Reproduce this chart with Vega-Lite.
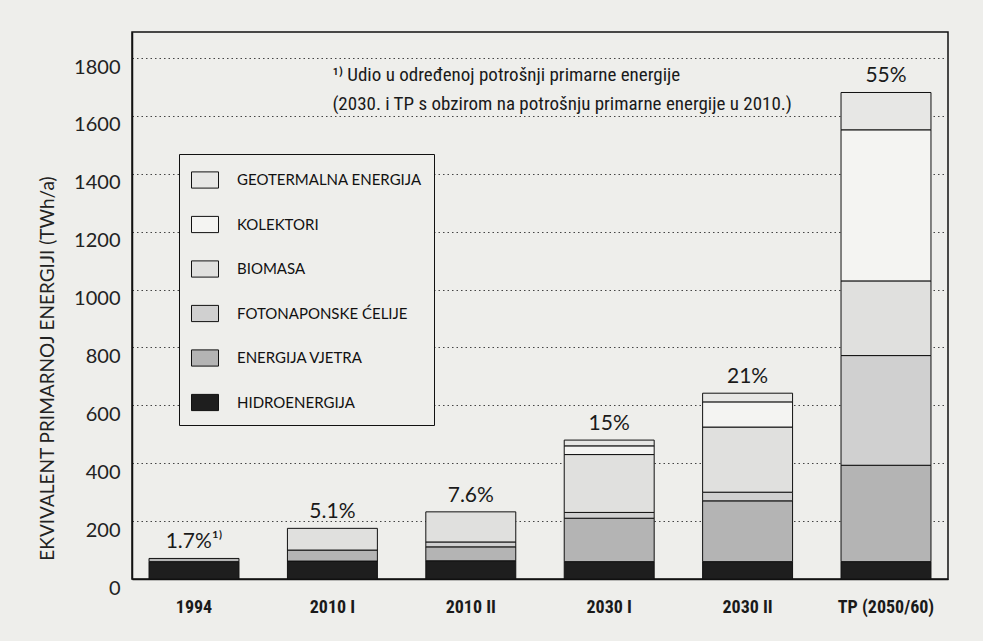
{
  "$schema": "https://vega.github.io/schema/vega-lite/v6.json",
  "width": 816,
  "height": 547,
  "autosize": "none",
  "padding": {"left": 132, "top": 32, "right": 35, "bottom": 62},
  "background": "#eeeeeb",
  "datasets": {
    "energy": [
      {"cat": "1994", "src": "HIDROENERGIJA", "v": 60},
      {"cat": "1994", "src": "ENERGIJA VJETRA", "v": 11},
      {"cat": "2010 I", "src": "HIDROENERGIJA", "v": 62},
      {"cat": "2010 I", "src": "ENERGIJA VJETRA", "v": 38},
      {"cat": "2010 I", "src": "BIOMASA", "v": 75},
      {"cat": "2010 II", "src": "HIDROENERGIJA", "v": 63},
      {"cat": "2010 II", "src": "ENERGIJA VJETRA", "v": 48},
      {"cat": "2010 II", "src": "FOTONAPONSKE ĆELIJE", "v": 17},
      {"cat": "2010 II", "src": "BIOMASA", "v": 104},
      {"cat": "2030 I", "src": "HIDROENERGIJA", "v": 60},
      {"cat": "2030 I", "src": "ENERGIJA VJETRA", "v": 150},
      {"cat": "2030 I", "src": "FOTONAPONSKE ĆELIJE", "v": 20},
      {"cat": "2030 I", "src": "BIOMASA", "v": 200},
      {"cat": "2030 I", "src": "KOLEKTORI", "v": 30},
      {"cat": "2030 I", "src": "GEOTERMALNA ENERGIJA", "v": 20},
      {"cat": "2030 II", "src": "HIDROENERGIJA", "v": 60},
      {"cat": "2030 II", "src": "ENERGIJA VJETRA", "v": 210},
      {"cat": "2030 II", "src": "FOTONAPONSKE ĆELIJE", "v": 30},
      {"cat": "2030 II", "src": "BIOMASA", "v": 225},
      {"cat": "2030 II", "src": "KOLEKTORI", "v": 87},
      {"cat": "2030 II", "src": "GEOTERMALNA ENERGIJA", "v": 30},
      {"cat": "TP (2050/60)", "src": "HIDROENERGIJA", "v": 60},
      {"cat": "TP (2050/60)", "src": "ENERGIJA VJETRA", "v": 333},
      {"cat": "TP (2050/60)", "src": "FOTONAPONSKE ĆELIJE", "v": 379},
      {"cat": "TP (2050/60)", "src": "BIOMASA", "v": 258},
      {"cat": "TP (2050/60)", "src": "KOLEKTORI", "v": 522},
      {"cat": "TP (2050/60)", "src": "GEOTERMALNA ENERGIJA", "v": 129}
    ],
    "sources": [
      {"src": "HIDROENERGIJA", "rank": 1},
      {"src": "ENERGIJA VJETRA", "rank": 2},
      {"src": "FOTONAPONSKE ĆELIJE", "rank": 3},
      {"src": "BIOMASA", "rank": 4},
      {"src": "KOLEKTORI", "rank": 5},
      {"src": "GEOTERMALNA ENERGIJA", "rank": 6}
    ],
    "labels": [
      {"cat": "1994", "pct": "1.7%¹⁾"},
      {"cat": "2010 I", "pct": "5.1%"},
      {"cat": "2010 II", "pct": "7.6%"},
      {"cat": "2030 I", "pct": "15%"},
      {"cat": "2030 II", "pct": "21%"},
      {"cat": "TP (2050/60)", "pct": "55%"}
    ]
  },
  "layer": [
    {
      "data": {"name": "energy"},
      "transform": [
        {"lookup": "src", "from": {"data": {"name": "sources"}, "key": "src", "fields": ["rank"]}}
      ],
      "mark": {"type": "bar", "stroke": "#111", "strokeWidth": 1},
      "encoding": {
        "x": {
          "field": "cat", "type": "nominal",
          "sort": ["1994", "2010 I", "2010 II", "2030 I", "2030 II", "TP (2050/60)"],
          "scale": {"paddingInner": 0.35, "paddingOuter": 0.123},
          "axis": {
            "title": null, "labelAngle": 0, "ticks": false,
            "domainColor": "#111", "domainWidth": 1.5,
            "labelFont": "Roboto Condensed, Roboto",
            "labelFontWeight": "bold", "labelFontSize": 18, "labelColor": "#1a1a1a",
            "labelPadding": 19
          }
        },
        "y": {
          "field": "v", "type": "quantitative", "aggregate": "sum", "stack": "zero",
          "scale": {"domain": [0, 1890], "nice": false},
          "axis": {
            "title": "EKVIVALENT PRIMARNOJ ENERGIJI (TWh/a)",
            "values": [0, 200, 400, 600, 800, 1000, 1200, 1400, 1600, 1800],
            "format": "d",
            "ticks": false, "domainColor": "#111", "domainWidth": 1.5,
            "labelFont": "Lato", "labelFontSize": 20, "labelColor": "#222",
            "labelPadding": 12, "labelOffset": 9,
            "grid": true, "gridColor": "#444", "gridDash": [1.5, 3], "gridWidth": 1,
            "titleFont": "Lato", "titleFontSize": 19, "titleFontWeight": "normal",
            "titleColor": "#222", "titleX": -85, "titleY": 336, "titleAngle": -90,
            "titleAlign": "center", "titleBaseline": "middle"
          }
        },
        "color": {
          "field": "src", "type": "nominal",
          "sort": ["HIDROENERGIJA", "ENERGIJA VJETRA", "FOTONAPONSKE ĆELIJE", "BIOMASA", "KOLEKTORI", "GEOTERMALNA ENERGIJA"],
          "scale": {"range": ["#1e1e1e", "#b4b4b4", "#d0d0d0", "#e0e0de", "#f4f4f2", "#e7e7e5"]},
          "legend": {
            "title": null, "orient": "none", "legendX": 47, "legendY": 122,
            "values": ["GEOTERMALNA ENERGIJA", "KOLEKTORI", "BIOMASA", "FOTONAPONSKE ĆELIJE", "ENERGIJA VJETRA", "HIDROENERGIJA"],
            "strokeColor": "#111", "fillColor": "#eeeeeb", "padding": 12,
            "symbolType": "M-1,-0.6H1V0.6H-1Z", "symbolSize": 729,
            "symbolStrokeColor": "#111", "symbolStrokeWidth": 1, "symbolOpacity": 1,
            "labelFont": "Lato", "labelFontSize": 15, "labelColor": "#111",
            "labelOffset": 18, "rowPadding": 19.5, "labelLimit": 300
          }
        },
        "order": {"field": "rank", "type": "quantitative", "sort": "ascending"}
      }
    },
    {
      "data": {"name": "energy"},
      "transform": [
        {"aggregate": [{"op": "sum", "field": "v", "as": "total"}], "groupby": ["cat"]},
        {"lookup": "cat", "from": {"data": {"name": "labels"}, "key": "cat", "fields": ["pct"]}}
      ],
      "mark": {"type": "text", "font": "Lato", "fontSize": 21, "color": "#1a1a1a", "baseline": "bottom", "dy": -6},
      "encoding": {
        "x": {"field": "cat", "type": "nominal", "sort": ["1994", "2010 I", "2010 II", "2030 I", "2030 II", "TP (2050/60)"]},
        "y": {"field": "total", "type": "quantitative"},
        "text": {"field": "pct"}
      }
    },
    {
      "data": {"values": [{}]},
      "mark": {
        "type": "text", "align": "left", "baseline": "alphabetic",
        "font": "Roboto Condensed, Roboto",
        "fontSize": 19, "color": "#1a1a1a", "lineHeight": 29,
        "text": ["¹⁾ Udio u određenoj potrošnji primarne energije", "(2030. i TP s obzirom na potrošnju primarne energije u 2010.)"]
      },
      "encoding": {
        "x": {"datum": "2010 I"},
        "y": {"datum": 1719}
      }
    }
  ],
  "config": {
    "view": {"stroke": "#111", "strokeWidth": 1.5}
  }
}
